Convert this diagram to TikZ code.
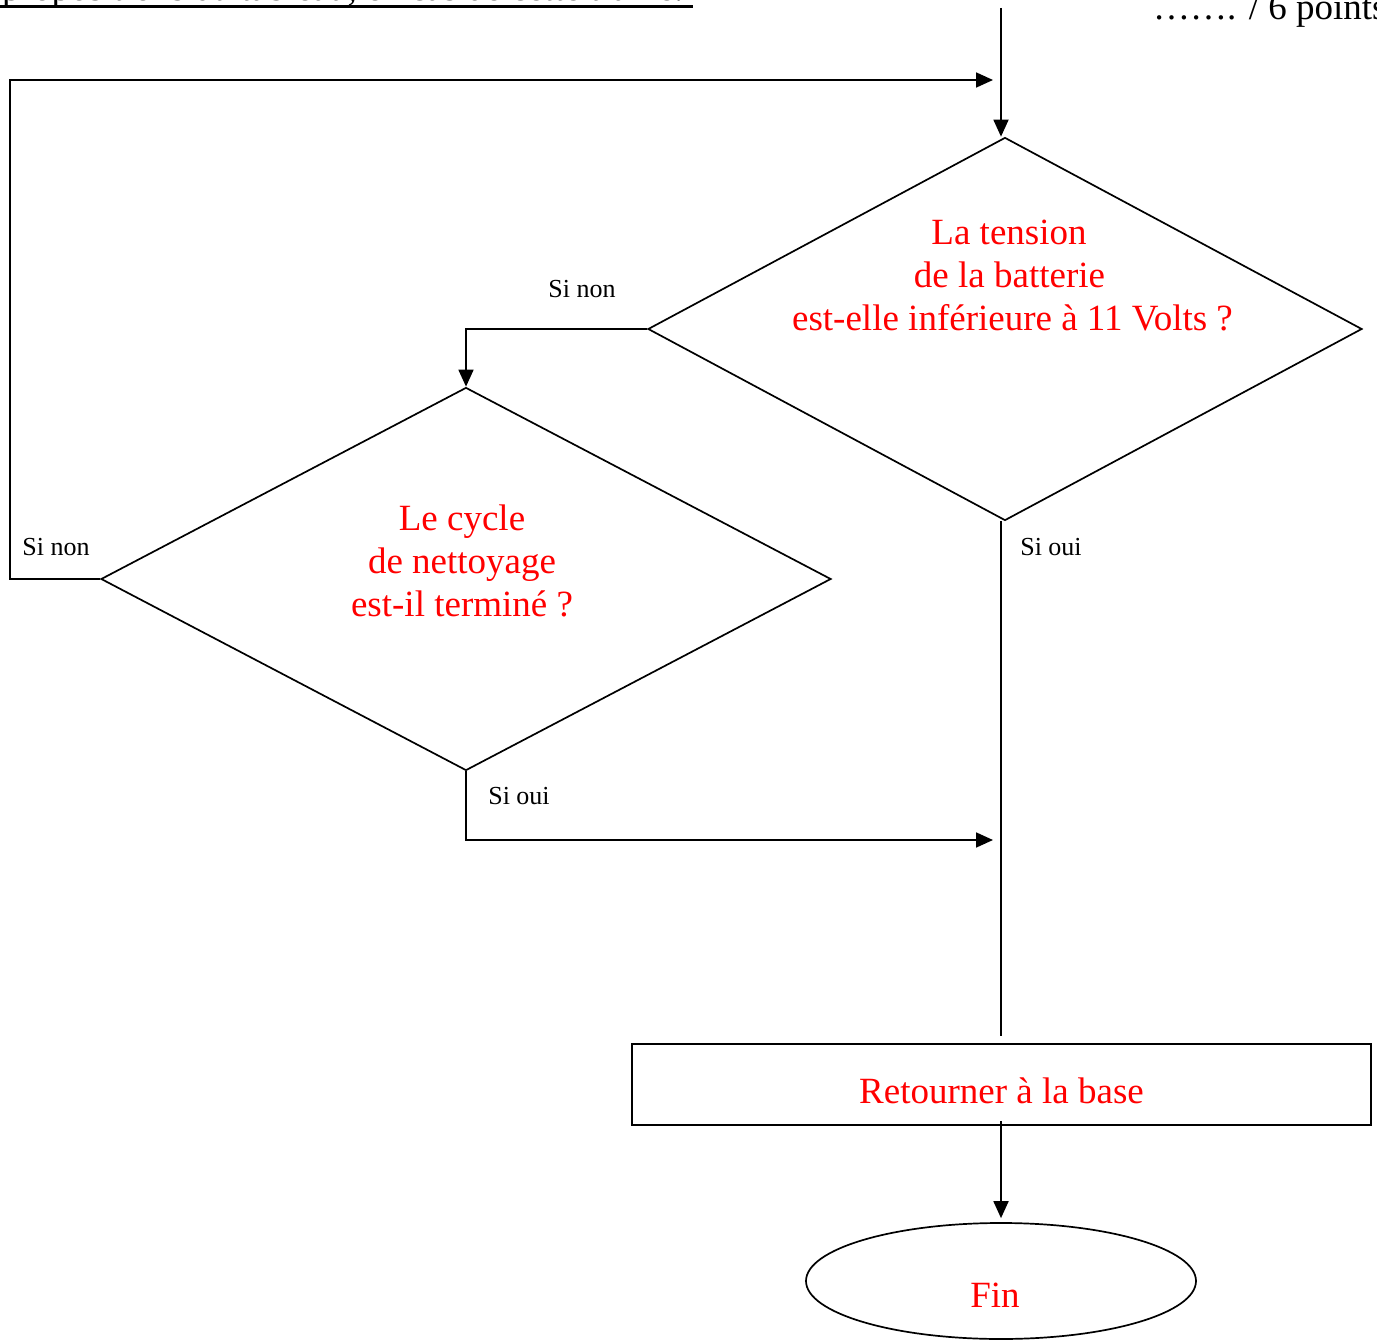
\documentclass[tikz,border=0pt]{standalone}
\usepackage{fontspec}
\setmainfont{Liberation Serif}
\usetikzlibrary{shapes.geometric,arrows.meta}
\begin{document}
\begin{tikzpicture}[x=1pt,y=-1pt,
  line/.style={line width=1.8pt},
  arr/.style={line, -{Triangle[length=17pt,width=15pt]}},
  shp/.style={draw, line width=1.7pt, inner sep=0pt},
  redtxt/.style={text=red, font=\fontsize{37}{43}\selectfont, inner sep=0pt, anchor=base},
  lbl/.style={font=\fontsize{26}{30}\selectfont, inner sep=0pt, anchor=base},
  bigtxt/.style={font=\fontsize{37}{43}\selectfont, inner sep=0pt, anchor=base west},
]
\useasboundingbox (0,0) rectangle (1377,1340);
\clip (0,0) rectangle (1377,1340);

% header texts
\node[bigtxt] (hdr) at (2,1) {propositions du tableau, en cas de cette trame.};
\draw[line width=3pt] (0,6.5) -- (693,6.5);
\node[bigtxt] (pts) at (1153,20) {\char"2026\char"2026. / 6 points};

% shapes
\node[shp, diamond, minimum width=714pt, minimum height=383pt] (d1) at (1005,329) {};
\node[shp, diamond, minimum width=730pt, minimum height=383pt] (d2) at (466,579) {};
\node[shp, rectangle, minimum width=739pt, minimum height=81pt] (ret) at (1001.5,1084.5) {};
\node[shp, ellipse, minimum width=390pt, minimum height=116pt] (fin) at (1001,1281) {};

% texts
\node[redtxt] (rett) at (1001.5,1103) {Retourner à la base};
\node[redtxt] (fint) at (995,1307) {Fin};
\node[redtxt] (t1a) at (1009,245) {La tension};
\node[redtxt] (t1b) at (1009.5,288) {de la batterie};
\node[redtxt] (t1c) at (1012.5,331) {est-elle inférieure à 11 Volts ?};
\node[redtxt] (t2a) at (462,530) {Le cycle};
\node[redtxt] (t2b) at (462,573) {de nettoyage};
\node[redtxt] (t2c) at (462,616) {est-il terminé ?};

% labels
\node[lbl] (l1) at (582,298) {Si non};
\node[lbl] (l2) at (56,555) {Si non};
\node[lbl] (l3) at (1051,555) {Si oui};
\node[lbl] (l4) at (519,804) {Si oui};

% coordinates
\coordinate (top) at (1001,8);
\coordinate (fbc) at (10,80);
\coordinate (fbe) at (993,80);
\coordinate (oe) at (993,840);

% connectors
\draw[arr] (top) -- (top |- d1.north);
\draw[arr] (d2.west) -| (fbc) -- (fbe);
\draw[arr] (d1.west) -| (d2.north);
\draw[arr] (d2.south) |- (oe);
\draw[line, shorten >=7pt] (top |- d1.south) -- (top |- ret.north);
\draw[arr, shorten <=-5pt, shorten >=4pt] (top |- ret.south) -- (top |- fin.north);
\end{tikzpicture}
\end{document}
